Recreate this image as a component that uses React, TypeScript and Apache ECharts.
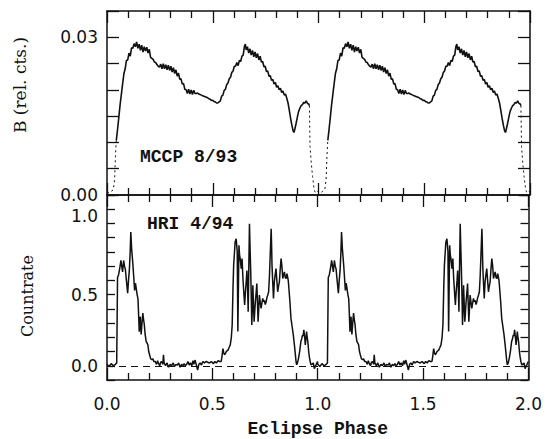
import React, { useEffect, useRef } from 'react';
import * as echarts from 'echarts';

// Tick labels
const xTickLabels = ['0.0', '0.5', '1.0', '1.5', '2.0'];
const topTickLabels = ['0.00', '0.03'];
const bottomTickLabels = ['0.0', '0.5', '1.0'];

// Panel texts
const topPanelLabel = 'MCCP 8/93';
const bottomPanelLabel = 'HRI 4/94';
const topAxisName = 'B (rel. cts.)';
const bottomAxisName = 'Countrate';
const xAxisName = 'Eclipse Phase';

// The two cycles shown (phase-folded data plotted twice)
const cycles = [0, 1];

// MCCP 8/93 optical (B) light curve, out-of-eclipse part, one cycle
const mccpPhase = [
  0.044, 0.050, 0.056, 0.062, 0.068, 0.074, 0.080, 0.086, 0.092, 0.098,
  0.104, 0.110, 0.116, 0.122, 0.128, 0.134, 0.140, 0.146, 0.152, 0.158,
  0.164, 0.170, 0.176, 0.182, 0.188, 0.194, 0.200, 0.206, 0.212, 0.218,
  0.224, 0.230, 0.236, 0.242, 0.248, 0.254, 0.260, 0.266, 0.272, 0.278,
  0.284, 0.290, 0.296, 0.302, 0.308, 0.314, 0.320, 0.326, 0.332, 0.338,
  0.344, 0.350, 0.356, 0.362, 0.368, 0.374, 0.380, 0.386, 0.392, 0.398,
  0.404, 0.410, 0.416, 0.422, 0.428, 0.434, 0.440, 0.446, 0.452, 0.458,
  0.464, 0.470, 0.476, 0.482, 0.488, 0.494, 0.500, 0.506, 0.512, 0.518,
  0.524, 0.530, 0.536, 0.542, 0.548, 0.554, 0.560, 0.566, 0.572, 0.578,
  0.584, 0.590, 0.596, 0.602, 0.608, 0.614, 0.620, 0.626, 0.632, 0.638,
  0.644, 0.650, 0.654, 0.658, 0.664, 0.670, 0.676, 0.682, 0.688, 0.694,
  0.700, 0.706, 0.712, 0.718, 0.724, 0.730, 0.736, 0.742, 0.748, 0.754,
  0.760, 0.766, 0.772, 0.778, 0.784, 0.790, 0.796, 0.802, 0.808, 0.814,
  0.820, 0.826, 0.832, 0.838, 0.844, 0.850, 0.856, 0.862, 0.868, 0.874,
  0.880, 0.884, 0.888, 0.894, 0.900, 0.906, 0.912, 0.918, 0.924, 0.930,
  0.936, 0.942, 0.948, 0.954, 0.957,
];
const mccpFlux = [
  0.0104, 0.0125, 0.0148, 0.0172, 0.0192, 0.0212, 0.0231, 0.0240, 0.0256, 0.0257,
  0.0270, 0.0264, 0.0280, 0.0279, 0.0288, 0.0282, 0.0291, 0.0279, 0.0287, 0.0275,
  0.0285, 0.0272, 0.0282, 0.0274, 0.0281, 0.0270, 0.0277, 0.0262, 0.0260, 0.0258,
  0.0253, 0.0252, 0.0248, 0.0245, 0.0243, 0.0249, 0.0240, 0.0250, 0.0240, 0.0248,
  0.0238, 0.0247, 0.0237, 0.0245, 0.0234, 0.0242, 0.0231, 0.0238, 0.0226, 0.0232,
  0.0220, 0.0221, 0.0211, 0.0212, 0.0201, 0.0200, 0.0193, 0.0201, 0.0192, 0.0200,
  0.0191, 0.0199, 0.0193, 0.0193, 0.0194, 0.0192, 0.0191, 0.0190, 0.0189, 0.0188,
  0.0187, 0.0186, 0.0185, 0.0183, 0.0182, 0.0180, 0.0180, 0.0178, 0.0177, 0.0175,
  0.0175, 0.0177, 0.0179, 0.0188, 0.0190, 0.0199, 0.0201, 0.0210, 0.0213, 0.0221,
  0.0224, 0.0233, 0.0236, 0.0245, 0.0245, 0.0252, 0.0246, 0.0256, 0.0254, 0.0264,
  0.0266, 0.0283, 0.0287, 0.0276, 0.0282, 0.0270, 0.0278, 0.0266, 0.0275, 0.0263,
  0.0272, 0.0261, 0.0269, 0.0257, 0.0264, 0.0253, 0.0254, 0.0244, 0.0245, 0.0235,
  0.0236, 0.0226, 0.0227, 0.0218, 0.0220, 0.0211, 0.0214, 0.0205, 0.0208, 0.0200,
  0.0203, 0.0195, 0.0198, 0.0190, 0.0192, 0.0184, 0.0175, 0.0161, 0.0146, 0.0133,
  0.0122, 0.0119, 0.0125, 0.0136, 0.0148, 0.0159, 0.0165, 0.0170, 0.0172, 0.0176,
  0.0175, 0.0179, 0.0174, 0.0173, 0.0170,
];
// Sparse points of eclipse ingress / egress
const mccpIngressPhase = [0.957, 0.960, 0.966, 0.972, 0.978, 0.983, 0.990, 0.995, 1.000];
const mccpIngressFlux = [0.0170, 0.0092, 0.0060, 0.0035, 0.0015, 0.0006, 0.0004, 0.0007, 0.0005];
const mccpEgressPhase = [0.000, 0.010, 0.020, 0.030, 0.036, 0.040, 0.044];
const mccpEgressFlux = [0.0005, 0.0004, 0.0007, 0.0010, 0.0030, 0.0075, 0.0104];

// HRI 4/94 X-ray count rate, one cycle
const hriPhase = [
  0.000, 0.010, 0.020, 0.030, 0.040, 0.046, 0.050, 0.055, 0.060, 0.066,
  0.070, 0.074, 0.079, 0.083, 0.087, 0.092, 0.098, 0.102, 0.106, 0.110,
  0.113, 0.117, 0.123, 0.127, 0.131, 0.135, 0.139, 0.143, 0.147, 0.150,
  0.153, 0.156, 0.158, 0.160, 0.162, 0.166, 0.170, 0.173, 0.177, 0.181,
  0.186, 0.190, 0.194, 0.198, 0.202, 0.207, 0.213, 0.218, 0.222, 0.229,
  0.235, 0.240, 0.244, 0.250, 0.255, 0.260, 0.265, 0.268, 0.271, 0.278,
  0.285, 0.292, 0.300, 0.307, 0.314, 0.320, 0.327, 0.334, 0.340, 0.347,
  0.354, 0.360, 0.366, 0.372, 0.378, 0.384, 0.390, 0.396, 0.402, 0.408,
  0.412, 0.418, 0.424, 0.430, 0.436, 0.442, 0.448, 0.455, 0.462, 0.470,
  0.478, 0.487, 0.495, 0.505, 0.512, 0.519, 0.527, 0.535, 0.542, 0.546,
  0.550, 0.554, 0.558, 0.566, 0.574, 0.580, 0.585, 0.590, 0.594, 0.598,
  0.601, 0.605, 0.608, 0.613, 0.618, 0.621, 0.624, 0.626, 0.629, 0.632,
  0.637, 0.641, 0.645, 0.649, 0.653, 0.657, 0.661, 0.664, 0.667, 0.670,
  0.673, 0.676, 0.679, 0.682, 0.685, 0.687, 0.690, 0.692, 0.695, 0.698,
  0.701, 0.704, 0.708, 0.711, 0.714, 0.717, 0.720, 0.723, 0.727, 0.731,
  0.735, 0.739, 0.743, 0.747, 0.751, 0.755, 0.759, 0.763, 0.767, 0.771,
  0.775, 0.779, 0.781, 0.783, 0.786, 0.790, 0.794, 0.798, 0.802, 0.806,
  0.810, 0.814, 0.818, 0.822, 0.826, 0.830, 0.834, 0.838, 0.842, 0.846,
  0.850, 0.854, 0.857, 0.860, 0.862, 0.868, 0.873, 0.878, 0.884, 0.889,
  0.894, 0.897, 0.900, 0.904, 0.909, 0.914, 0.920, 0.924, 0.928, 0.931,
  0.934, 0.938, 0.941, 0.944, 0.947, 0.950, 0.953, 0.957, 0.960, 0.964,
  0.968, 0.973, 0.979, 0.984, 0.988, 0.993, 0.999,
];
const hriRate = [
  0.01, -0.005, 0.015, 0.0, 0.01, 0.02, 0.62, 0.64, 0.68, 0.74,
  0.70, 0.66, 0.74, 0.70, 0.68, 0.60, 0.51, 0.60, 0.67, 0.80,
  0.94, 0.82, 0.71, 0.62, 0.53, 0.58, 0.54, 0.50, 0.47, 0.36,
  0.24, 0.33, 0.345, 0.27, 0.22, 0.30, 0.37, 0.33, 0.29, 0.22,
  0.17, 0.16, 0.147, 0.10, 0.077, 0.05, 0.042, 0.05, 0.03, 0.03,
  0.01, 0.035, 0.019, 0.0, 0.025, 0.03, 0.01, 0.077, 0.02, 0.0,
  0.02, -0.01, 0.01, 0.0, 0.02, -0.005, 0.01, 0.005, 0.02, -0.01,
  0.01, 0.0, 0.015, 0.0, 0.01, 0.03, 0.005, 0.02, 0.0, 0.035,
  0.01, 0.04, 0.005, -0.03, 0.01, 0.02, 0.005, 0.03, 0.02, 0.03,
  0.025, 0.02, 0.03, 0.015, 0.03, 0.02, 0.035, 0.03, 0.03, 0.07,
  0.12, 0.09, 0.077, 0.10, 0.11, 0.13, 0.147, 0.20, 0.287, 0.55,
  0.706, 0.80, 0.87, 0.893, 0.80, 0.24, 0.60, 0.846, 0.78, 0.753,
  0.683, 0.753, 0.613, 0.52, 0.427, 0.52, 0.60, 0.67, 0.55, 0.38,
  0.70, 0.998, 0.82, 0.66, 0.45, 0.287, 0.42, 0.566, 0.44, 0.31,
  0.38, 0.45, 0.52, 0.578, 0.44, 0.31, 0.40, 0.497, 0.45, 0.403,
  0.44, 0.473, 0.45, 0.46, 0.43, 0.45, 0.48, 0.497, 0.52, 0.636,
  0.80, 0.963, 0.85, 0.706, 0.60, 0.473, 0.59, 0.64, 0.683, 0.60,
  0.52, 0.56, 0.59, 0.68, 0.753, 0.70, 0.613, 0.64, 0.66, 0.62,
  0.613, 0.648, 0.648, 0.60, 0.566, 0.45, 0.333, 0.28, 0.217, 0.15,
  0.077, 0.03, 0.007, 0.02, 0.054, 0.10, 0.17, 0.19, 0.217, 0.21,
  0.252, 0.20, 0.147, 0.19, 0.24, 0.20, 0.17, 0.10, 0.065, 0.03,
  0.007, 0.01, 0.02, -0.02, -0.005, 0.01, 0.03,
];

const INK = '#111';
const MONO = '"Liberation Mono", "DejaVu Sans Mono", monospace';
const SANS = '"DejaVu Sans", sans-serif';
const SERIF = '"DejaVu Serif", serif';

function pairs(ph: number[], val: number[], shift: number) {
  return ph.map((p, i) => [p + shift, val[i]]);
}

function pickLabel(list: string[], v: number) {
  const hit = list.find((l) => Math.abs(parseFloat(l) - v) < 1e-6);
  return hit ?? '';
}

function xAxisCfg(gridIndex: number, position: string, showLabels: boolean) {
  return {
    type: 'value',
    gridIndex,
    position,
    min: 0,
    max: 2,
    interval: 0.5,
    axisLine: { show: true, onZero: false, lineStyle: { color: INK, width: 1.5 } },
    axisTick: { show: true, inside: true, length: 12, lineStyle: { color: INK, width: 1.3 } },
    minorTick: { show: true, splitNumber: 5, length: 7, lineStyle: { color: INK, width: 1.3 } },
    splitLine: { show: false },
    minorSplitLine: { show: false },
    axisLabel: {
      show: showLabels,
      margin: 15,
      color: INK,
      fontFamily: SANS,
      fontSize: 17,
      hideOverlap: false,
      formatter: (v: number) => pickLabel(xTickLabels, v),
    },
    name: showLabels ? xAxisName : '',
    nameLocation: 'middle',
    nameGap: 40,
    nameTextStyle: { color: INK, fontFamily: MONO, fontWeight: 'bold', fontSize: 18 },
  };
}

export default function App() {
  const ref = useRef<HTMLDivElement>(null);

  useEffect(() => {
    document.body.style.margin = '0';
    if (!ref.current) return;
    const chart = echarts.init(ref.current, undefined, { renderer: 'svg' });

    const topDense: any[] = [];
    cycles.forEach((k, idx) => {
      if (idx > 0) topDense.push([k, '-']);
      topDense.push(...pairs(mccpPhase, mccpFlux, k));
    });
    const topEclipse: any[] = [];
    topEclipse.push(...pairs(mccpEgressPhase, mccpEgressFlux, 0));
    cycles.forEach((k) => {
      topEclipse.push([k + 0.95, '-']);
      topEclipse.push(...pairs(mccpIngressPhase, mccpIngressFlux, k));
      if (k + 1 < 2) topEclipse.push(...pairs(mccpEgressPhase, mccpEgressFlux, k + 1));
    });

    const bottom: any[] = [];
    cycles.forEach((k) => bottom.push(...pairs(hriPhase, hriRate, k)));

    const yTop = (position: string, showLabels: boolean) => ({
      type: 'value',
      gridIndex: 0,
      position,
      min: 0,
      max: 0.035,
      interval: 0.005,
      axisLine: { show: true, onZero: false, lineStyle: { color: INK, width: 1.5 } },
      axisTick: { show: true, inside: true, length: 12, lineStyle: { color: INK, width: 1.3 } },
      splitLine: { show: false },
      axisLabel: {
        show: showLabels,
        margin: 9,
        color: INK,
        fontFamily: SANS,
        fontSize: 17,
        hideOverlap: false,
        formatter: (v: number) => pickLabel(topTickLabels, v),
      },
    });

    const yBottom = (position: string, showLabels: boolean) => ({
      type: 'value',
      gridIndex: 1,
      position,
      min: -0.1,
      max: 1.2,
      interval: 0.1,
      axisLine: { show: true, onZero: false, lineStyle: { color: INK, width: 1.5 } },
      axisTick: { show: true, inside: true, length: 8, lineStyle: { color: INK, width: 1.3 } },
      splitLine: { show: false },
      axisLabel: {
        show: showLabels,
        margin: 9,
        color: INK,
        fontFamily: SANS,
        fontSize: 17,
        hideOverlap: false,
        formatter: (v: number) => {
          const l = pickLabel(bottomTickLabels, v);
          if (l === '1.0') return '{up|' + l + '}';
          return l;
        },
        rich: {
          up: { fontFamily: SANS, fontSize: 17, color: INK, padding: [0, 0, 14, 0] },
        },
      },
    });

    const nameStyle = (text: string, size: number) => ({
      text,
      fill: INK,
      font: size + 'px ' + SERIF,
      textAlign: 'center',
      textVerticalAlign: 'middle',
    });

    chart.setOption({
      animation: false,
      backgroundColor: '#ffffff',
      grid: [
        { left: 107, top: 11, width: 423, height: 184 },
        { left: 107, top: 195, width: 423, height: 187 },
      ],
      xAxis: [
        xAxisCfg(0, 'bottom', false),
        xAxisCfg(0, 'top', false),
        xAxisCfg(1, 'bottom', true),
        xAxisCfg(1, 'top', false),
      ],
      yAxis: [yTop('left', true), yTop('right', false), yBottom('left', true), yBottom('right', false)],
      graphic: [
        {
          type: 'text',
          x: 140,
          y: 157,
          style: {
            text: topPanelLabel,
            fill: INK,
            font: 'bold 18px ' + MONO,
            textVerticalAlign: 'middle',
          },
        },
        {
          type: 'text',
          x: 147,
          y: 224,
          style: {
            text: bottomPanelLabel,
            fill: INK,
            font: 'bold 18px ' + MONO,
            textVerticalAlign: 'middle',
          },
        },
        {
          type: 'text',
          x: 20,
          y: 85,
          rotation: Math.PI / 2,
          style: nameStyle(topAxisName, 17),
        },
        {
          type: 'text',
          x: 27,
          y: 296,
          rotation: Math.PI / 2,
          style: nameStyle(bottomAxisName, 16),
        },
      ],
      series: [
        {
          type: 'line',
          xAxisIndex: 0,
          yAxisIndex: 0,
          data: topDense,
          symbol: 'none',
          connectNulls: false,
          lineStyle: { color: INK, width: 1.6 },
        },
        {
          type: 'line',
          xAxisIndex: 0,
          yAxisIndex: 0,
          data: topEclipse,
          symbol: 'none',
          connectNulls: false,
          lineStyle: { color: INK, width: 1, type: [2, 3] },
        },
        {
          type: 'line',
          xAxisIndex: 2,
          yAxisIndex: 2,
          data: bottom,
          symbol: 'none',
          lineStyle: { color: INK, width: 1.5 },
          markLine: {
            silent: true,
            symbol: 'none',
            label: { show: false },
            lineStyle: { color: INK, width: 1.2, type: [7, 5] },
            data: [{ yAxis: 0 }],
          },
        },
      ],
    });

    return () => chart.dispose();
  }, []);

  return <div ref={ref} style={{ width: 545, height: 439 }} />;
}
